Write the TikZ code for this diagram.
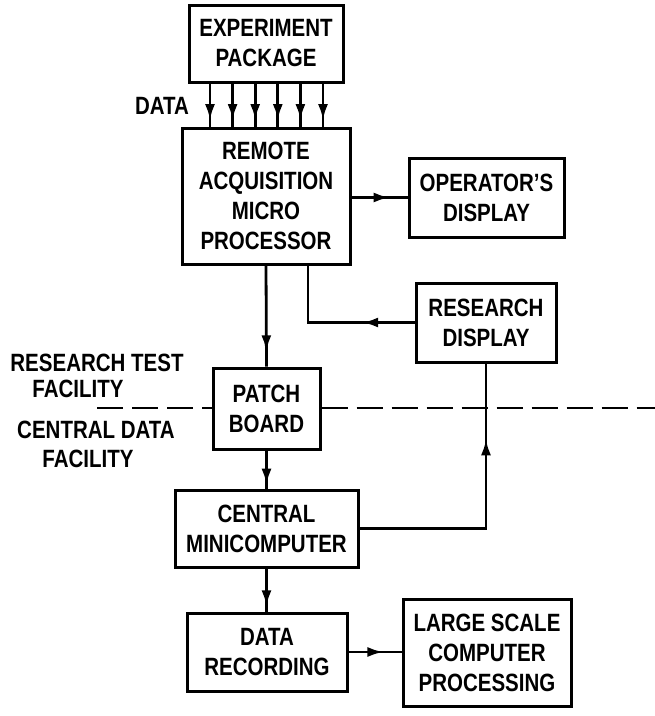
\documentclass[tikz,border=0pt]{standalone}
\usepackage{fontspec}
\setmainfont{Liberation Sans}[FakeStretch=0.82]
\usetikzlibrary{arrows.meta,decorations.markings}

\tikzset{
  blk/.style={draw, line width=3pt, rectangle, inner sep=0pt, align=center,
    font=\fontsize{25}{30}\selectfont\bfseries},
  lbl/.style={inner sep=0pt, align=center, font=\fontsize{25}{30}\selectfont\bfseries},
  wire/.style={line width=2.8pt},
  tipat/.style={wire, postaction={decorate}, decoration={markings,
    mark=at position #1 with {\arrow{Latex[length=16pt,width=10pt]}}}},
  divider/.style={line width=2.4pt, dash pattern=on 26pt off 9pt},
}

\begin{document}
\begin{tikzpicture}[x=1pt,y=-1pt]
\useasboundingbox (0,0) rectangle (655,716);

% blocks
\node[blk, minimum width=154pt, minimum height=77pt]  (exp)   at (266,43.5)  {EXPERIMENT\\PACKAGE};
\node[blk, minimum width=168pt, minimum height=136pt] (ramp)  at (266,196)   {REMOTE\\ACQUISITION\\MICRO\\PROCESSOR};
\node[blk, minimum width=155pt, minimum height=79pt]  (op)    at (486.5,197.5) {OPERATOR'S\\DISPLAY};
\node[blk, minimum width=140pt, minimum height=79pt]  (rd)    at (486,322.5) {RESEARCH\\DISPLAY};
\node[blk, minimum width=107pt, minimum height=81pt]  (patch) at (266.5,408.5) {PATCH\\BOARD};
\node[blk, minimum width=183pt, minimum height=77pt]  (cm)    at (266.5,528.5) {CENTRAL\\MINICOMPUTER};
\node[blk, minimum width=160pt, minimum height=78pt]  (rec)   at (267,652)   {DATA\\RECORDING};
\node[blk, minimum width=168pt, minimum height=107pt] (ls)    at (487,652.5) {LARGE SCALE\\COMPUTER\\PROCESSING};

% labels
\node[lbl] (data) at (162,106) {DATA};
\node[lbl] (rtf1) at (97,363)  {RESEARCH TEST};
\node[lbl] (rtf2) at (78,389)  {FACILITY};
\node[lbl] (cdf1) at (96,430)  {CENTRAL DATA};
\node[lbl] (cdf2) at (88,459)  {FACILITY};

% data lines into the acquisition processor
\foreach \dx in {-56,-33.4,-10.8,11.8,34.4,57}
  \draw[tipat=0.85] ([xshift=\dx pt]exp.south) -- ([xshift=\dx pt]exp.south |- ramp.north);

% connectors
\draw[tipat=0.68] (ramp.east |- op.west) -- (op.west);
\draw[tipat=0.32] (rd.west) -| ([xshift=42pt]ramp.south);
\draw[tipat=0.85] (ramp.south) -- (patch.north);
\draw[tipat=0.9] (patch.south) -- (cm.north);
\draw[tipat=0.74] (cm.east) -| (rd.south);
\draw[tipat=0.88] (cm.south) -- (cm.south |- rec.north);
\draw[tipat=0.66] (rec.east) -- (rec.east -| ls.west);

% facility boundary
\coordinate (bl) at (97,408);
\coordinate (br) at (655,408);
\draw[divider] (bl) -- (patch.west |- bl);
\draw[divider] (patch.east |- br) -- (br);
\end{tikzpicture}
\end{document}
